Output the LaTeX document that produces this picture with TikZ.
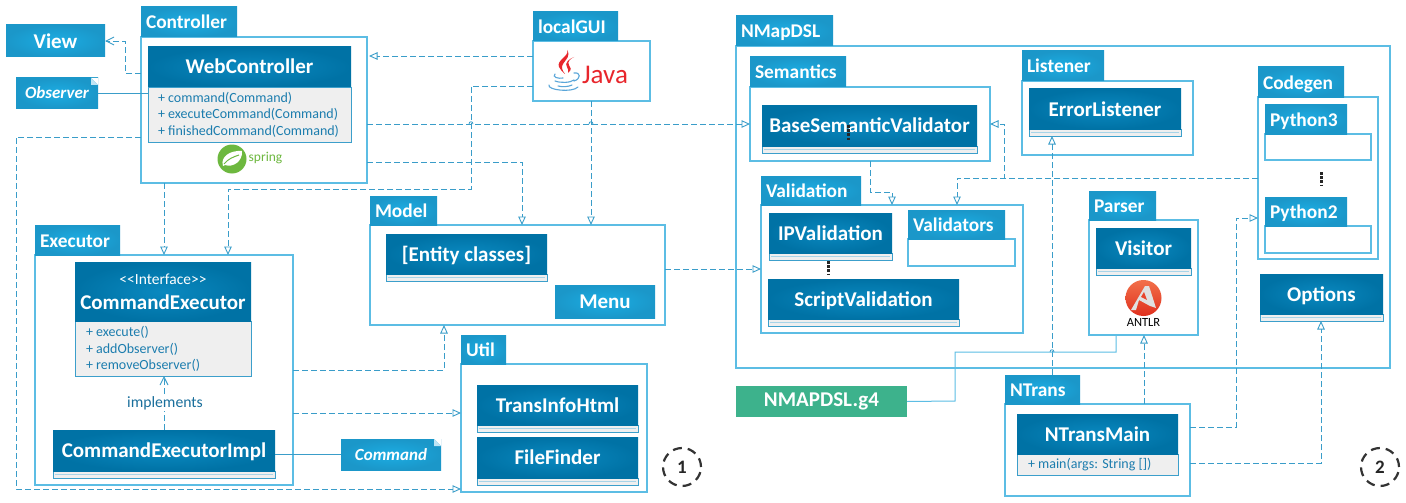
\documentclass[tikz,border=0pt]{standalone}
\usepackage{fontspec}
\setmainfont{Carlito}
\usetikzlibrary{arrows.meta}
\definecolor{hdrIn}{HTML}{0A89C0}
\definecolor{hdrOut}{HTML}{0072A5}
\definecolor{tabIn}{HTML}{1CADE3}
\definecolor{tabOut}{HTML}{1B97C9}
\definecolor{pkgLine}{HTML}{5CBDE4}
\definecolor{clsLine}{HTML}{3C9FCB}
\definecolor{conn}{HTML}{3A9DC9}
\definecolor{memberTxt}{HTML}{1C7DAE}
\definecolor{labelTxt}{HTML}{1A6F9C}
\definecolor{cmpFill}{HTML}{EFEFEF}
\definecolor{noteFold}{HTML}{BFE4F4}
\definecolor{mintA}{HTML}{3DB28C}
\definecolor{javaRed}{HTML}{E8262C}
\definecolor{javaBlue}{HTML}{5AA6D9}
\definecolor{springGreen}{HTML}{6DB83F}
\definecolor{antlrT}{HTML}{F2704A}
\definecolor{antlrB}{HTML}{E0301E}
\definecolor{antlrM}{HTML}{E8452C}
\tikzset{
  x=1pt, y=-1pt,
  box/.style={inner sep=0pt, outer sep=0pt, anchor=north west},
  pkgbody/.style={box, draw=pkgLine, line width=1.1pt, fill=white},
  pkgtab/.style={box, inner color=tabIn, outer color=tabOut, text=white,
    font=\fontsize{19.4}{22}\selectfont\bfseries},
  headmetrics/.style={text height=15pt, text depth=1pt},
  clshead/.style={box, inner color=hdrIn, outer color=hdrOut, text=white, align=center,
    font=\fontsize{21}{24}\selectfont\bfseries},
  clsbody/.style={box, draw=clsLine, line width=0.9pt, fill=cmpFill},
  member/.style={anchor=west, inner sep=0pt, outer sep=0pt, align=left, text=memberTxt,
    font=\fontsize{14}{16.6}\selectfont},
  notebox/.style={box, inner color=tabIn, outer color=tabOut, text=white,
    font=\fontsize{17}{20}\selectfont\bfseries\itshape},
  dep/.style={draw=conn, line width=0.9pt, dash pattern=on 6pt off 3pt,
    -{Triangle[open, length=8.5pt, width=7.5pt, line width=0.9pt]}},
  depopen/.style={draw=conn, line width=0.9pt, dash pattern=on 6pt off 3pt,
    -{Straight Barb[length=8pt, width=8pt, line width=0.9pt]}},
  assoc/.style={draw=conn, line width=0.9pt},
  assocpale/.style={draw=pkgLine, line width=1pt},
  hump/.style={draw=conn, line width=0.8pt},
  ellipsisdots/.style={draw=black!85, line width=3pt, dash pattern=on 2.8pt off 1.4pt},
  stepmark/.style={circle, draw=black!80, line width=2.2pt, dash pattern=on 9pt off 6pt,
    minimum size=38pt, inner sep=0pt, text=black!85,
    font=\fontsize{19}{22}\selectfont\bfseries},
}
% id, label, left, tab top, tab right, body top, right, bottom
\newcommand\umlpackage[8]{%
  \pgfmathsetmacro\boxw{#7-#3}\pgfmathsetmacro\boxh{#8-#6}%
  \pgfmathsetmacro\tabw{#5-#3}\pgfmathsetmacro\tabh{#6-#4}\pgfmathsetmacro\tabt{#5-#3-10}%
  \node[pkgbody, minimum width=\boxw pt, minimum height=\boxh pt] (#1) at (#3,#6) {};
  \node[pkgtab, minimum width=\tabw pt, minimum height=\tabh pt, text width=\tabt pt,
    align=left, inner xsep=5pt, text height=15pt, text depth=1pt] (#1-tab) at (#3,#4) {#2};
}
% id, left, top, right, head bottom, bottom, title
\newcommand\umlclass[7]{%
  \pgfmathsetmacro\boxw{#4-#2}\pgfmathsetmacro\headh{#5-#3}\pgfmathsetmacro\cmph{#6-#5}%
  \node[clsbody, minimum width=\boxw pt, minimum height=\cmph pt] (#1-c) at (#2,#5) {};
  \node[clshead, headmetrics, minimum width=\boxw pt, minimum height=\headh pt] (#1) at (#2,#3) {#7};
}
% same, with a hairline inside the empty compartment
\newcommand\umlemptyclass[7]{%
  \umlclass{#1}{#2}{#3}{#4}{#5}{#6}{#7}
  \draw[draw=clsLine!45, line width=0.8pt] ([xshift=2pt]#1-c.west) -- ([xshift=-2pt]#1-c.east);
}
% id, left, top, right, bottom, text
\newcommand\umlnote[6]{%
  \pgfmathsetmacro\boxw{#4-#2}\pgfmathsetmacro\boxh{#5-#3}%
  \node[notebox, minimum width=\boxw pt, minimum height=\boxh pt] (#1) at (#2,#3) {#6};
  \fill[white] (#1.north east) -- ++(-7,0) -- ++(7,7) -- cycle;
  \fill[noteFold] ([xshift=-7pt]#1.north east) -- ++(7,7) -- ++(-7,0) -- cycle;
}
\begin{document}
\begin{tikzpicture}
\useasboundingbox (0,0) rectangle (1406,503);
\fill[white] (0,0) rectangle (1406,503);

% ---- application side ----
\node[box, inner color=tabIn, outer color=tabOut, text=white, minimum width=99pt, minimum height=32pt,
  font=\fontsize{21}{24}\selectfont\bfseries] (view) at (6,25) {View};
\umlnote{observer}{16}{78}{98}{108}{Observer}

\umlpackage{controller}{Controller}{141}{7}{237}{37}{367}{183}
\umlclass{web}{148}{47}{351}{87}{142}{WebController}
\node[member] at (158,114.8) {+ command(Command)\\+ executeCommand(Command)\\+ finishedCommand(Command)};

% spring badge
\fill[springGreen] (232,159) circle [radius=14.5];
\fill[white] (223,166) .. controls (220,157) and (230,150) .. (242,151)
  .. controls (243,161) and (233,168) .. (225,165) -- cycle;
\draw[springGreen, line width=1pt] (224,164) .. controls (228,159) and (233,157) .. (239,155);
\node[inner sep=0pt, text=springGreen, font=\fontsize{13.5}{16}\selectfont] (springtxt) at (265.5,158.5) {spring};

\umlpackage{local}{localGUI}{533}{12}{618}{41}{650}{101}
% Java badge
\fill[javaRed] (567,50) .. controls (570,56) and (556,60) .. (559,67)
  .. controls (560,70) and (563,72) .. (565,74)
  .. controls (562,70) and (561,67) .. (563,64)
  .. controls (566,59) and (571,56) .. (567,50) -- cycle;
\fill[javaRed] (574,57) .. controls (569,59) and (564,63) .. (567,67)
  .. controls (568,69) and (569,71) .. (568,73)
  .. controls (572,70) and (571,67) .. (569,65)
  .. controls (567,62) and (570,59) .. (574,57) -- cycle;
\draw[javaBlue, line width=1.1pt, line cap=round]
  (555,74) .. controls (552,77) and (558,79) .. (563,78)
  (555,81) .. controls (560,83) and (570,83) .. (574,80)
  (558,86) .. controls (562,87) and (568,87) .. (572,85)
  (574,73) .. controls (581,72) and (581,79) .. (574,81)
  (549,85) .. controls (547,90) and (572,93) .. (578,87);
\node[inner sep=0pt, text=javaRed, font=\fontsize{27}{30}\selectfont] (javatxt) at (605,75) {Java};

\umlpackage{model}{Model}{370}{196}{437}{225}{665}{325}
\umlemptyclass{entity}{386}{234}{547}{274}{281}{[Entity classes]}
\node[box, inner color=tabIn, outer color=tabOut, text=white, minimum width=100pt, minimum height=33pt,
  font=\fontsize{21}{24}\selectfont\bfseries] (menu) at (555,285) {Menu};

\umlpackage{executor}{Executor}{35}{225}{120}{255}{293}{485}
{\tikzset{headmetrics/.style={}}%
\umlclass{iface}{75}{262}{251}{321}{376}{{\fontsize{15.5}{19}\selectfont\mdseries {<}{<}Interface{>}{>}}\\[1pt]{\fontsize{21}{24}\selectfont CommandExecutor}}}
\node[member] at (86,349) {+ execute()\\+ addObserver()\\+ removeObserver()};
\umlemptyclass{impl}{53}{430}{275}{471}{478}{CommandExecutorImpl}
\umlnote{command}{341}{439}{441}{470}{Command}

\umlpackage{util}{Util}{461}{335}{506}{364}{647}{492}
\umlemptyclass{transinfo}{477}{385}{638}{425}{432}{TransInfoHtml}
\umlemptyclass{filefinder}{477}{437}{638}{478}{485}{FileFinder}

\node[stepmark] (one) at (682,467) {1};

% ---- translator side ----
\umlpackage{nmap}{NMapDSL}{736}{16}{833}{46}{1390}{368}
\umlpackage{semantics}{Semantics}{750}{57}{846}{87}{990}{161}
\umlemptyclass{basesem}{762}{105}{977}{146}{153}{BaseSemanticValidator}
\draw[ellipsisdots] (848,125) -- (848,140);

\umlpackage{listener}{Listener}{1022}{51}{1104}{81}{1193}{155}
\umlemptyclass{errlist}{1029}{89}{1181}{129}{136}{ErrorListener}

\umlpackage{codegen}{Codegen}{1258}{67}{1344}{97}{1378}{259}
\umlpackage{py3}{Python3}{1265}{104}{1347}{134}{1371}{160}
\draw[ellipsisdots] (1321,172) -- (1321,186);
\umlpackage{py2}{Python2}{1265}{197}{1347}{226}{1371}{253}

\umlemptyclass{options}{1260}{274}{1383}{314}{321}{Options}

\umlpackage{validation}{Validation}{761}{176}{861}{205}{1023}{333}
\umlemptyclass{ipval}{769}{213}{892}{253}{260}{IPValidation}
\draw[ellipsisdots] (828,261) -- (828,275);
\umlemptyclass{scriptval}{768}{279}{959}{319}{326}{ScriptValidation}
\umlpackage{validators}{Validators}{908}{210}{1005}{239}{1015}{266}

\umlpackage{parser}{Parser}{1089}{191}{1156}{220}{1198}{335}
\umlemptyclass{visitor}{1096}{228}{1191}{268}{275}{Visitor}
% ANTLR badge
\shade[top color=antlrT, bottom color=antlrB] (1143.5,298) circle [radius=18];
\fill[white!88!black] (1145,286) -- (1149,286) -- (1156,308) -- (1150,306) -- (1139,300) -- (1136,310) -- (1131,310) -- cycle;
\fill[antlrM] (1144,292) -- (1147,300) -- (1141,297) -- cycle;
\node[inner sep=0pt, text=black, font=\fontsize{12.5}{14}\selectfont] (antlrtxt) at (1143.5,322) {ANTLR};

\node[box, fill=mintA, text=white, minimum width=171pt, minimum height=31pt,
  font=\fontsize{21}{24}\selectfont\bfseries] (grammar) at (736,386) {NMAPDSL.g4};

\umlpackage{ntrans}{NTrans}{1005}{375}{1080}{404}{1190}{496}
\umlclass{ntmain}{1017}{414}{1178}{454}{475}{NTransMain}
\node[member] at (1028,465) {+ main(args: String [])};

\node[stepmark] (two) at (1380,467) {2};

% ---- connectors ----
\draw[depopen] (controller.west |- 0,73) -- (125,73) -- (125,41) -- (view.east |- 0,41);
\draw[assoc] (observer.east) -- (web-c.west |- observer.east);
\draw[dep] (controller.west |- 0,137) -- (16,137) -- (16,489) -- (util.west |- 0,489);
\draw[dep] (controller.south -| 164,0) -- (executor.north -| 164,0);
\draw[dep] (local.west |- 0,56) -- ([xshift=2pt]controller.east |- 0,56);
\draw[dep] (local.west |- 0,86) -- (471,86) -- (471,189) -- (228,189) -- (executor.north -| 228,0);
\draw[dep] (local.south -| 591,0) -- (model.north -| 591,0);
\draw[dep] (controller.east |- 0,162) -- (522,162) -- (model.north -| 522,0);
\draw[dep] (controller.east |- 0,124) -- (semantics.west |- 0,124);
\draw[dep] (executor.east |- 0,370) -- (444,370) -- (model.south -| 444,0);
\draw[dep] (executor.east |- 0,413) -- (util.west |- 0,413);
\draw[depopen] (impl.north -| 164,0) -- (iface-c.south -| 164,0);
\node[fill=white, inner sep=1pt, text=labelTxt, font=\fontsize{15.7}{18}\selectfont] (impltxt) at (165,403) {implements};
\draw[assoc] (impl.east |- command.west) -- (command.west);
\draw[dep] (model.east |- 0,269) -- (validation.west |- 0,269);
\draw[dep] (semantics.south -| 870,0) -- (870,192) -- (892,192) -- (validation.north -| 892,0);
\draw[dep] (codegen.west |- 0,178) -- (957,178) -- (validation.north -| 957,0);
\draw[dep] (codegen.west |- 0,178) -- (1004,178) -- (1004,124) -- (semantics.east |- 0,124);
\draw[dep] (ntrans-tab.north -| 1052,0) -- (errlist-c.south -| 1052,0);
\draw[dep] (ntrans.north -| 1144,0) -- (parser.south -| 1144,0);
\draw[dep] (ntrans.east |- 0,427) -- (1236,427) -- (1236,218) -- (codegen.west |- 0,218);
\draw[dep] (ntrans.east |- 0,463) -- (1321,463) -- (options-c.south -| 1321,0);
\draw[assocpale] (grammar.east) -- (955,401) -- (955,352) -- (1116,352) -- (parser.south -| 1116,0);

% small bridges where connectors cross
\draw[hump] (469,124) .. controls (469,121) and (473,121) .. (473,124);
\draw[hump] (589,124) .. controls (589,121) and (593,121) .. (593,124);
\draw[hump] (1050,352) .. controls (1050,349) and (1054,349) .. (1054,352);
\end{tikzpicture}
\end{document}
